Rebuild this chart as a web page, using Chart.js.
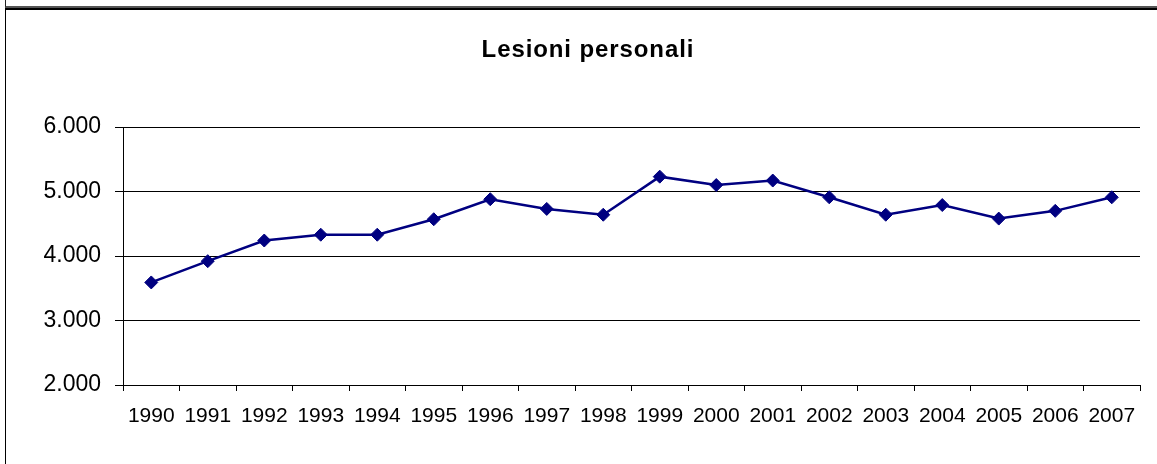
<!DOCTYPE html>
<html>
<head>
<meta charset="utf-8">
<script src="https://cdn.jsdelivr.net/npm/chart.js@4.4.1/dist/chart.umd.min.js"></script>
<style>
  html, body { margin: 0; padding: 0; background: #fff; overflow: hidden; }
  #wrap { position: relative; width: 1157px; height: 464px; overflow: hidden; }
  #topbox { position: absolute; left: 5px; top: -20px; width: 1300px; height: 25px; border: 1px solid #222; border-bottom: 2px solid #555; }
  #frame { position: absolute; left: 5px; top: 8px; width: 1300px; height: 600px; border: 1px solid #000; border-top-width: 2px; }
  #c { position: absolute; left: 0; top: 0; }
</style>
</head>
<body>
<div id="wrap">
  <div id="topbox"></div>
  <div id="frame"></div>
  <canvas id="c" width="1157" height="464"></canvas>
</div>
<script>
const chartTitle = 'Lesioni personali';
const years = ['1990','1991','1992','1993','1994','1995','1996','1997','1998','1999','2000','2001','2002','2003','2004','2005','2006','2007'];
const lesioni = [3590, 3920, 4240, 4330, 4330, 4570, 4880, 4730, 4640, 5230, 5100, 5170, 4910, 4640, 4790, 4580, 4700, 4910];
const yTickValues = [2000, 3000, 4000, 5000, 6000];
const yTickLabels = ['2.000', '3.000', '4.000', '5.000', '6.000'];

const titlePlugin = {
  id: 'spacedTitle',
  afterDraw(chart) {
    const ctx = chart.ctx;
    ctx.save();
    ctx.font = 'bold 24px "Liberation Sans", Arial, sans-serif';
    ctx.fillStyle = '#000';
    ctx.textBaseline = 'middle';
    ctx.textAlign = 'left';
    const ls = 0.9;
    ctx.letterSpacing = ls + 'px';
    const w = ctx.measureText(chartTitle).width - ls;
    ctx.fillText(chartTitle, 587.5 - w / 2, 50);
    ctx.restore();
  }
};

new Chart(document.getElementById('c'), {
  type: 'line',
  data: {
    labels: years,
    datasets: [{
      label: chartTitle,
      data: lesioni,
      borderColor: '#000080',
      backgroundColor: '#000080',
      borderWidth: 2.5,
      pointStyle: 'rectRot',
      pointRadius: 6.5,
      pointBorderWidth: 1,
      pointBorderColor: '#000080',
      pointBackgroundColor: '#000080',
      tension: 0,
      fill: false
    }]
  },
  options: {
    responsive: false,
    animation: false,
    devicePixelRatio: 1,
    layout: { padding: { left: 0, right: 17, top: 127, bottom: 0 } },
    plugins: {
      legend: { display: false },
      title: { display: false },
      tooltip: { enabled: false }
    },
    scales: {
      x: {
        offset: true,
        grid: { display: true, drawOnChartArea: false, color: '#000', tickLength: 6, offset: true },
        border: { display: true, color: '#000', width: 1 },
        ticks: { color: '#000', font: { family: '"Liberation Sans", Arial, sans-serif', size: 21 }, padding: 13, maxRotation: 0, autoSkip: false },
        afterFit(scale) { scale.height = 79; }
      },
      y: {
        min: 2000,
        max: 6000,
        afterBuildTicks(scale) { scale.ticks = yTickValues.map(v => ({ value: v })); },
        grid: { color: '#000', lineWidth: 1, tickLength: 8 },
        border: { display: true, color: '#000', width: 1 },
        ticks: {
          color: '#000',
          font: { family: '"Liberation Sans", Arial, sans-serif', size: 23 },
          padding: 14,
          callback(value) { const i = yTickValues.indexOf(value); return i >= 0 ? yTickLabels[i] : ''; }
        },
        afterFit(scale) { scale.width = 123; }
      }
    }
  },
  plugins: [titlePlugin]
});
</script>
</body>
</html>
